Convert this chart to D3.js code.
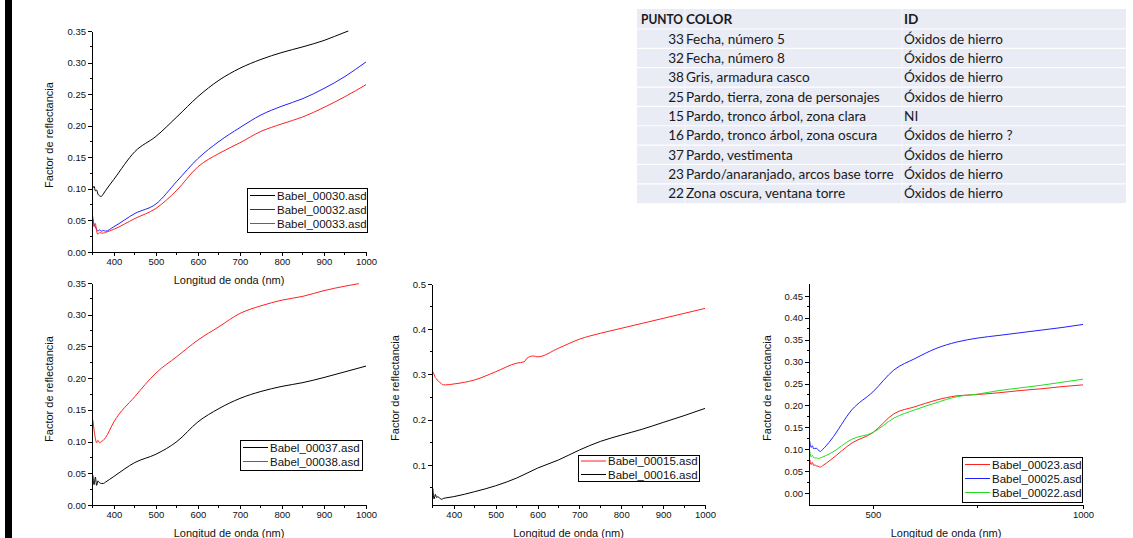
<!DOCTYPE html>
<html>
<head>
<meta charset="utf-8">
<script src="https://cdn.jsdelivr.net/npm/d3@7"></script>
<style>
  html, body { margin: 0; padding: 0; background: #fff; }
  svg { display: block; }
  .tick-label { font-family: "Liberation Sans", Arial, sans-serif; font-size: 9.5px; fill: #111; }
  .axis-title { font-family: "Liberation Sans", Arial, sans-serif; font-size: 11px; fill: #111; }
  .legend-text { font-family: "Liberation Sans", Arial, sans-serif; font-size: 11.5px; fill: #111; }
  .tbl { font-family: Lato, "Open Sans", sans-serif; font-size: 13.6px; fill: #1a1a1a; }
</style>
</head>
<body>
<svg id="chart" width="1133" height="538"></svg>
<script>
// Wavelength grid (nm) shared by most spectra
const wl = [350, 353, 356, 359, 362, 366, 370, 375, 380, 400, 450, 500, 550, 600, 650, 700, 750, 800, 850, 900, 950, 1000];
const wl30 = [350, 353, 356, 359, 362, 366, 370, 375, 380, 400, 450, 500, 550, 600, 650, 700, 750, 800, 850, 900, 950, 958];
const wl38 = [350, 353, 356, 359, 362, 366, 370, 375, 380, 400, 450, 500, 550, 600, 650, 700, 750, 800, 850, 900, 950, 983];
const wl15 = [350, 353, 356, 359, 362, 366, 370, 375, 380, 400, 450, 500, 550, 568, 575, 590, 600, 650, 700, 750, 800, 850, 900, 950, 1000];

// Reflectance factor per spectrum
const babel30 = [0.101, 0.104, 0.097, 0.098, 0.092, 0.089, 0.088, 0.092, 0.097, 0.115, 0.159, 0.183, 0.214, 0.246, 0.272, 0.291, 0.305, 0.316, 0.325, 0.335, 0.348, 0.350];
const babel32 = [0.052, 0.044, 0.040, 0.036, 0.033, 0.035, 0.033, 0.034, 0.033, 0.040, 0.061, 0.076, 0.112, 0.148, 0.175, 0.197, 0.217, 0.231, 0.243, 0.259, 0.278, 0.301];
const babel33 = [0.056, 0.040, 0.045, 0.033, 0.028, 0.031, 0.030, 0.030, 0.031, 0.036, 0.053, 0.069, 0.098, 0.135, 0.156, 0.173, 0.191, 0.203, 0.214, 0.229, 0.246, 0.265];

const babel37 = [0.047, 0.032, 0.044, 0.031, 0.038, 0.035, 0.034, 0.034, 0.036, 0.045, 0.067, 0.080, 0.100, 0.131, 0.152, 0.168, 0.179, 0.187, 0.193, 0.201, 0.210, 0.219];
const babel38 = [0.134, 0.118, 0.105, 0.098, 0.102, 0.098, 0.100, 0.102, 0.106, 0.131, 0.171, 0.208, 0.234, 0.260, 0.281, 0.302, 0.314, 0.323, 0.329, 0.338, 0.345, 0.349];

const babel15 = [0.306, 0.300, 0.293, 0.290, 0.286, 0.283, 0.280, 0.277, 0.277, 0.279, 0.288, 0.306, 0.325, 0.328, 0.336, 0.341, 0.339, 0.358, 0.378, 0.391, 0.402, 0.413, 0.424, 0.435, 0.446];
const babel16 = [0.048, 0.025, 0.035, 0.028, 0.030, 0.027, 0.024, 0.026, 0.027, 0.030, 0.041, 0.054, 0.071, 0.093, 0.111, 0.133, 0.152, 0.166, 0.179, 0.194, 0.209, 0.225];

const babel23 = [0.076, 0.065, 0.070, 0.063, 0.064, 0.062, 0.061, 0.059, 0.062, 0.076, 0.114, 0.138, 0.181, 0.197, 0.212, 0.222, 0.225, 0.229, 0.234, 0.238, 0.243, 0.247];
const babel25 = [0.118, 0.104, 0.108, 0.101, 0.102, 0.102, 0.098, 0.095, 0.099, 0.121, 0.190, 0.231, 0.281, 0.307, 0.330, 0.345, 0.354, 0.360, 0.366, 0.372, 0.378, 0.385];
const babel22 = [0.095, 0.083, 0.086, 0.081, 0.080, 0.080, 0.079, 0.080, 0.082, 0.091, 0.123, 0.138, 0.171, 0.190, 0.206, 0.220, 0.226, 0.234, 0.240, 0.246, 0.253, 0.260];

// Tick values
const xTicks100 = [400, 500, 600, 700, 800, 900, 1000];
const xMinor100 = [350, 450, 550, 650, 750, 850, 950];
const xTicks500 = [500, 1000];
const xMinor500 = [750];
const yTicks035 = [0, 0.05, 0.10, 0.15, 0.20, 0.25, 0.30, 0.35];
const yMinor035 = [0.025, 0.075, 0.125, 0.175, 0.225, 0.275, 0.325];
const yTicks05 = [0.1, 0.2, 0.3, 0.4, 0.5];
const yMinor05 = [0.05, 0.15, 0.25, 0.35, 0.45];
const yTicks045 = [0, 0.05, 0.10, 0.15, 0.20, 0.25, 0.30, 0.35, 0.40, 0.45];
const yMinor045 = [0.025, 0.075, 0.125, 0.175, 0.225, 0.275, 0.325, 0.375, 0.425];

// Table rows
const puntos = [33, 32, 38, 25, 15, 16, 37, 23, 22];
const colores = ["Fecha, número 5", "Fecha, número 8", "Gris, armadura casco", "Pardo, tierra, zona de personajes",
  "Pardo, tronco árbol, zona clara", "Pardo, tronco árbol, zona oscura", "Pardo, vestimenta",
  "Pardo/anaranjado, arcos base torre", "Zona oscura, ventana torre"];
const ids = ["Óxidos de hierro", "Óxidos de hierro", "Óxidos de hierro", "Óxidos de hierro", "NI",
  "Óxidos de hierro ?", "Óxidos de hierro", "Óxidos de hierro", "Óxidos de hierro"];

const svg = d3.select("#chart");

// dark strip along the left edge
svg.append("rect").attr("x", 5).attr("y", 0).attr("width", 7).attr("height", 538).attr("fill", "#000");

const panels = [
  { x0: 92, x1: 366, y0: 252, y1: 31, yDom: [0, 0.35], xt: xTicks100, xm: xMinor100, yt: yTicks035, ym: yMinor035,
    yFmt: d3.format(".2f"), yTitleX: 53, yTitleY: 135,
    series: [
      { name: "Babel_00030.asd", x: wl30, y: babel30, color: "#000000" },
      { name: "Babel_00032.asd", x: wl, y: babel32, color: "#2020ff" },
      { name: "Babel_00033.asd", x: wl, y: babel33, color: "#ff2020" }],
    legend: { x: 247, y: 188, w: 120, h: 44, rows: [195.5, 209.5, 223.5] } },
  { x0: 92, x1: 366, y0: 505, y1: 283, yDom: [0, 0.35], xt: xTicks100, xm: xMinor100, yt: yTicks035, ym: yMinor035,
    yFmt: d3.format(".2f"), yTitleX: 53, yTitleY: 389,
    series: [
      { name: "Babel_00037.asd", x: wl, y: babel37, color: "#000000" },
      { name: "Babel_00038.asd", x: wl38, y: babel38, color: "#ff2020" }],
    legend: { x: 240, y: 440, w: 122, h: 30, rows: [447.5, 461.5] } },
  { x0: 432, x1: 705, y0: 505, y1: 284, yDom: [0.0115, 0.5], xt: xTicks100, xm: xMinor100, yt: yTicks05, ym: yMinor05,
    yFmt: d3.format(".1f"), yTitleX: 399, yTitleY: 388,
    series: [
      { name: "Babel_00015.asd", x: wl15, y: babel15, color: "#ff2020" },
      { name: "Babel_00016.asd", x: wl, y: babel16, color: "#000000" }],
    legend: { x: 578, y: 455, w: 121, h: 26, rows: [461, 474.5] } },
  { x0: 809, x1: 1083, y0: 505, y1: 283, yDom: [-0.0274, 0.4797], xt: xTicks500, xm: xMinor500, yt: yTicks045, ym: yMinor045,
    yFmt: d3.format(".2f"), yTitleX: 771, yTitleY: 388,
    series: [
      { name: "Babel_00023.asd", x: wl, y: babel23, color: "#ff2020" },
      { name: "Babel_00025.asd", x: wl, y: babel25, color: "#2020ff" },
      { name: "Babel_00022.asd", x: wl, y: babel22, color: "#20e020" }],
    legend: { x: 962, y: 457, w: 120, h: 45, rows: [464.5, 478.5, 492.5] } }
];

panels.forEach(p => {
  const x = d3.scaleLinear().domain([348, 1000]).range([p.x0, p.x1]);
  const y = d3.scaleLinear().domain(p.yDom).range([p.y0, p.y1]);
  const g = svg.append("g");

  // spectra
  const line = d3.line().curve(d3.curveMonotoneX);
  p.series.forEach(s => {
    const pts = s.x.map((w, i) => [x(w), y(s.y[i])]);
    g.append("path").attr("d", line(pts)).attr("fill", "none")
      .attr("stroke", s.color).attr("stroke-width", 1);
  });

  // axes
  const xAxis = d3.axisBottom(x).tickValues(p.xt).tickSize(4).tickSizeOuter(0).tickFormat(d3.format("d"));
  const ax = g.append("g").attr("transform", `translate(0,${p.y0})`).call(xAxis);
  ax.append("g").selectAll("line").data(p.xm).join("line")
    .attr("x1", d => x(d)).attr("x2", d => x(d)).attr("y1", 0).attr("y2", 2.5).attr("stroke", "#000");
  ax.selectAll("text").attr("class", "tick-label").attr("y", 6).attr("dy", "0.71em");

  const yAxis = d3.axisLeft(y).tickValues(p.yt).tickSize(4).tickSizeOuter(0).tickFormat(p.yFmt);
  const ay = g.append("g").attr("transform", `translate(${p.x0},0)`).call(yAxis);
  ay.append("g").selectAll("line").data(p.ym).join("line")
    .attr("y1", d => y(d)).attr("y2", d => y(d)).attr("x1", 0).attr("x2", -2.5).attr("stroke", "#000");
  ay.selectAll("text").attr("class", "tick-label").attr("x", -6);

  [ax, ay].forEach(a => {
    a.attr("font-family", null).attr("font-size", null);
    a.selectAll("path, line").attr("stroke", "#000").attr("shape-rendering", "crispEdges");
  });

  // axis titles
  g.append("text").attr("class", "axis-title").attr("x", (p.x0 + p.x1) / 2).attr("y", p.y0 + 32)
    .attr("text-anchor", "middle").text("Longitud de onda (nm)");
  g.append("text").attr("class", "axis-title")
    .attr("transform", `translate(${p.yTitleX},${p.yTitleY}) rotate(-90)`)
    .attr("text-anchor", "middle").text("Factor de reflectancia");

  // legend
  const L = p.legend;
  const lg = g.append("g");
  lg.append("rect").attr("x", L.x + 0.5).attr("y", L.y + 0.5).attr("width", L.w).attr("height", L.h)
    .attr("fill", "#fff").attr("stroke", "#000").attr("stroke-width", 1);
  p.series.forEach((s, i) => {
    lg.append("line").attr("x1", L.x + 3).attr("x2", L.x + 28).attr("y1", L.rows[i]).attr("y2", L.rows[i])
      .attr("stroke", s.color).attr("stroke-width", 1);
    lg.append("text").attr("class", "legend-text").attr("x", L.x + 30).attr("y", L.rows[i])
      .attr("dy", "0.36em").text(s.name);
  });
});

// table of sampled points
const tbl = svg.append("g");
const tX0 = 637, tX1 = 1126, tTop = 9, headH = 20, rowH = 19.35;
tbl.append("rect").attr("x", tX0).attr("y", tTop).attr("width", tX1 - tX0).attr("height", headH + rowH * puntos.length)
  .attr("fill", "#e9ebf5");
puntos.forEach((_, i) => {
  tbl.append("line").attr("x1", tX0).attr("x2", tX1)
    .attr("y1", tTop + headH + rowH * i).attr("y2", tTop + headH + rowH * i)
    .attr("stroke", "#fff").attr("stroke-width", 1.2);
});
[685, 902].forEach(cx => {
  tbl.append("line").attr("x1", cx).attr("x2", cx).attr("y1", tTop).attr("y2", tTop + headH + rowH * puntos.length)
    .attr("stroke", "#f7f8fc").attr("stroke-width", 1);
});
const headY = tTop + headH / 2;
tbl.append("text").attr("class", "tbl").attr("x", 641).attr("y", headY).attr("dy", "0.36em").attr("font-weight", "bold")
  .attr("textLength", 42).attr("lengthAdjust", "spacingAndGlyphs").text("PUNTO");
tbl.append("text").attr("class", "tbl").attr("x", 686).attr("y", headY).attr("dy", "0.36em").attr("font-weight", "bold").text("COLOR");
tbl.append("text").attr("class", "tbl").attr("x", 904).attr("y", headY).attr("dy", "0.36em").attr("font-weight", "bold").text("ID");
puntos.forEach((n, i) => {
  const cy = tTop + headH + rowH * (i + 0.5);
  tbl.append("text").attr("class", "tbl").attr("x", 684).attr("y", cy).attr("dy", "0.36em").attr("text-anchor", "end").text(n);
  tbl.append("text").attr("class", "tbl").attr("x", 686).attr("y", cy).attr("dy", "0.36em").text(colores[i]);
  tbl.append("text").attr("class", "tbl").attr("x", 904).attr("y", cy).attr("dy", "0.36em").text(ids[i]);
});
</script>
</body>
</html>
